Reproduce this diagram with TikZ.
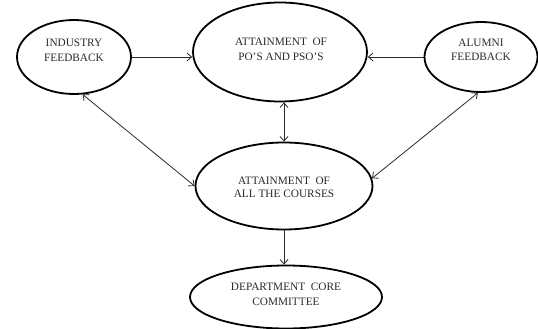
\documentclass[tikz,border=0pt]{standalone}
\usepackage{fontspec}
\setmainfont{Liberation Serif}
\usetikzlibrary{shapes.geometric,arrows.meta}
\definecolor{inkgray}{HTML}{2a2a2a}
\begin{document}
\begin{tikzpicture}[x=1pt,y=-1pt,
  oval/.style={ellipse,draw=black,line width=1.8pt,inner sep=0pt},
  lbl/.style={align=center,text=inkgray,inner sep=0pt,
    font=\fontsize{11.3}{14.5}\selectfont},
  link/.style={draw=inkgray,line width=0.8pt,
    arrows={-Straight Barb[length=4.5pt,width=8pt]}},
  both/.style={link,arrows={Straight Barb[length=4.5pt,width=8pt]-Straight Barb[length=4.5pt,width=8pt]}}]
\useasboundingbox (0,0) rectangle (538,329);
% outlines
\node[oval,minimum width=114pt,minimum height=74pt] (ind) at (74,57) {};
\node[oval,minimum width=174pt,minimum height=99pt] (po) at (280,52) {};
\node[oval,minimum width=113pt,minimum height=70pt] (alu) at (481,57) {};
\node[oval,minimum width=177pt,minimum height=87pt] (crs) at (284,186) {};
\node[oval,minimum width=192pt,minimum height=63pt] (dep) at (286,297) {};
% captions
\node[lbl] (ind-t) at (74,50.5) {INDUSTRY\\FEEDBACK};
\node[lbl] (po-t) at (281,49.5) {ATTAINMENT\ \ OF\\PO'S AND PSO'S};
\node[lbl] (alu-t) at (481,50) {ALUMNI\\FEEDBACK};
\node[lbl,font=\fontsize{11.3}{12.8}\selectfont] (crs-t) at (284,187) {ATTAINMENT\ \ OF\\ALL\ THE\ COURSES};
\node[lbl] (dep-t) at (286,294.5) {DEPARTMENT\ \ CORE\\COMMITTEE};
% connectors
\draw[link] (ind.east) -- (ind.east -| po.west);
\draw[link] (alu.west) -- (alu.west -| po.east);
\draw[both] (crs.north |- po.south) -- (crs.north);
\draw[both] (ind.-77) -- (crs.west);
\draw[both] (alu.-95) -- (crs.5);
\draw[link] (crs.south) -- (crs.south |- dep.north);
\end{tikzpicture}
\end{document}
